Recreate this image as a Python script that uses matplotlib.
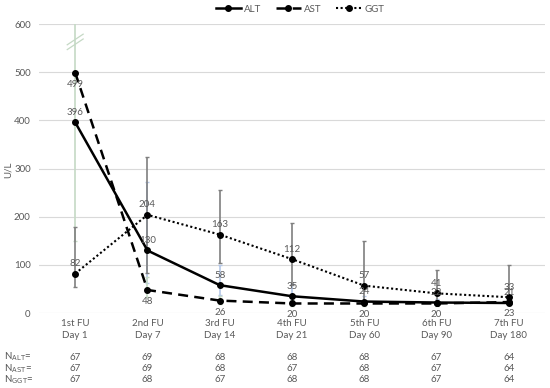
import matplotlib.pyplot as plt
import numpy as np

plt.rcParams['font.family'] = ['Lato', 'DejaVu Sans']

visits = ['1st FU\nDay 1', '2nd FU\nDay 7', '3rd FU\nDay 14', '4th FU\nDay 21',
          '5th FU\nDay 60', '6th FU\nDay 90', '7th FU\nDay 180']
alt = [396, 130, 58, 35, 24, 22, 21]
ast = [499, 48, 26, 20, 20, 20, 23]
ggt = [82, 204, 163, 112, 57, 41, 33]

alt_lo = [396, 62, 37, 25, 18, 17, 16]
alt_hi = [396, 272, 100, 60, 35, 30, 28]
ast_lo = [150, 33, 18, 15, 15, 15, 16]
ast_hi = [640, 75, 35, 28, 28, 26, 30]
ggt_lo = [54, 83, 104, 58, 25, 22, 20]
ggt_hi = [178, 324, 255, 187, 150, 89, 100]

n_alt = [67, 69, 68, 68, 68, 67, 64]
n_ast = [67, 69, 68, 67, 68, 67, 64]
n_ggt = [67, 68, 67, 68, 68, 67, 64]

grey = '#595959'
x = np.arange(len(visits))

fig = plt.figure(figsize=(5.5, 3.88), dpi=100)
ax = fig.add_axes([0.071, 0.193, 0.92, 0.745])

# error bars (drawn under the lines)
ax.errorbar(x[1:], alt[1:], yerr=[(np.array(alt) - alt_lo)[1:], (np.array(alt_hi) - alt)[1:]],
            fmt='none', ecolor='#b4c7e7', elinewidth=1.2, capsize=1.6, zorder=2)
ax.errorbar(x, ast, yerr=[np.array(ast) - ast_lo, np.array(ast_hi) - ast],
            fmt='none', ecolor='#c5d9c5', elinewidth=1.2, capsize=1.6, zorder=2.1)
ax.errorbar(x, ggt, yerr=[np.array(ggt) - ggt_lo, np.array(ggt_hi) - ggt],
            fmt='none', ecolor='#7f7f7f', elinewidth=1.2, capsize=1.6, zorder=2.2)

# axis break marks on the day-1 AST bar
for off in (0, -10):
    ax.plot([-0.11, 0.11], [557 + off, 579 + off], color='#c5d9c5', lw=0.9, zorder=2.3)

ax.plot(x, alt, color='black', lw=1.8, marker='o', ms=4, label='ALT', zorder=3)
ax.plot(x, ast, color='black', lw=1.8, ls=(0, (4, 2.5)), marker='o', ms=4, label='AST', zorder=3)
ax.plot(x, ggt, color='black', lw=1.5, ls=(0, (1, 1.2)), marker='o', ms=4, label='GGT', zorder=3)

for i in x:
    ax.annotate(str(alt[i]), (i, alt[i]), xytext=(0, 4), textcoords='offset points',
                ha='center', va='bottom', fontsize=7, color=grey, zorder=4)
    ax.annotate(str(ggt[i]), (i, ggt[i]), xytext=(0, 4), textcoords='offset points',
                ha='center', va='bottom', fontsize=7, color=grey, zorder=4)
    ax.annotate(str(ast[i]), (i, ast[i]), xytext=(0, -5), textcoords='offset points',
                ha='center', va='top', fontsize=7, color=grey, zorder=4)

ax.set_xlim(-0.5, len(visits) - 0.5)
ax.set_ylim(0, 600)
ax.set_yticks(np.arange(0, 601, 100))
ax.set_xticks(x)
ax.set_xticklabels(visits, fontsize=7, color=grey, linespacing=1.5)
ax.tick_params(axis='y', labelsize=7, labelcolor=grey, length=0, pad=6)
ax.tick_params(axis='x', length=0, pad=4)
ax.grid(axis='y', color='#d9d9d9', lw=0.8, zorder=0)
ax.set_axisbelow(True)
for s in ax.spines.values():
    s.set_visible(False)
fig.text(8 / 550, 1 - 170 / 388, 'U/L', rotation=90, fontsize=7, color=grey,
         ha='center', va='center')

# sample size rows below the axis
rows = [(r'N$_{\mathrm{ALT}}$=', n_alt), (r'N$_{\mathrm{AST}}$=', n_ast), (r'N$_{\mathrm{GGT}}$=', n_ggt)]
for k, (lab, vals) in enumerate(rows):
    yy = 31 / 388 - k * 11.5 / 388
    fig.text(0.008, yy, lab, fontsize=7, color=grey, va='center', ha='left')
    for i in x:
        xf = ax.transData.transform((i, 0))[0] / fig.bbox.width
        fig.text(xf, yy, str(vals[i]), fontsize=7, color=grey, va='center', ha='center')

fig.legend(loc='upper center', bbox_to_anchor=(0.545, 1.0), ncol=3, frameon=False,
           fontsize=7, handlelength=2.6, columnspacing=1.5, handletextpad=0.3,
           labelcolor=grey, borderaxespad=0.1)

fig.savefig('out.png', dpi=100)
